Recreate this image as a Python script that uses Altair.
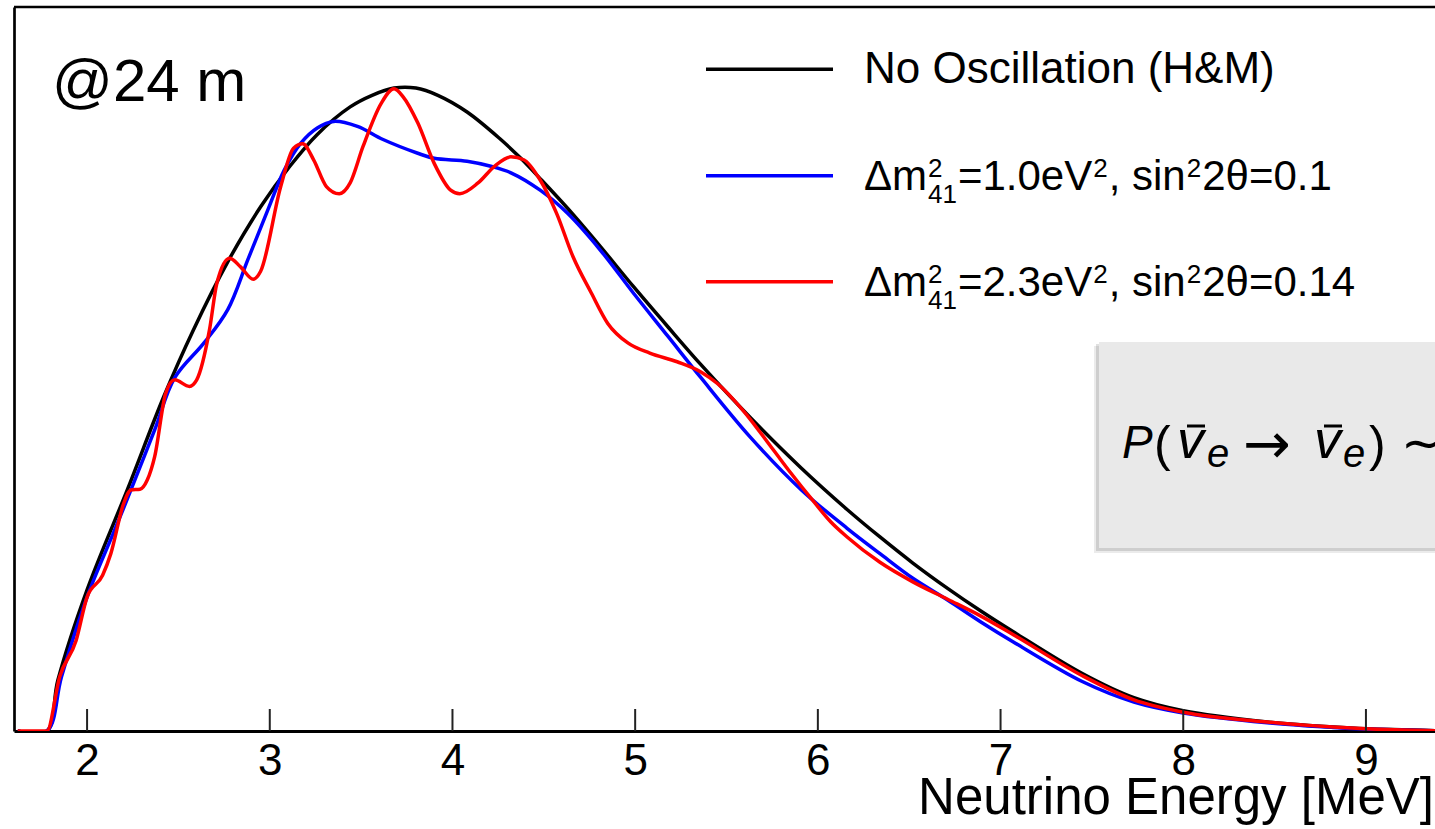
import altair as alt
import pandas as pd

# ---------------- data ----------------
TICKS = [2, 3, 4, 5, 6, 7, 8, 9]

black_E = [1.62, 1.78, 1.84, 2.00, 2.22, 2.42, 2.58, 2.77, 2.95, 3.11, 3.26, 3.44, 3.56, 3.68,
           3.80, 3.92, 4.08, 4.26, 4.37, 4.48, 4.63, 4.81, 4.99, 5.18, 5.36, 5.63, 5.91, 6.16,
           6.34, 6.52, 6.71, 6.89, 7.07, 7.45, 7.73, 8.00, 8.46, 8.82, 9.00, 9.38]
black_v = [0, 0, 7.0, 19.5, 33.3, 46.2, 55.3, 64.8, 72.4, 78.0, 82.4, 86.2, 87.8, 88.8,
           88.8, 87.8, 85.5, 81.8, 79.2, 76.3, 72.2, 66.9, 61.4, 55.8, 50.6, 43.3, 36.3, 30.6,
           26.8, 23.2, 19.7, 16.6, 13.7, 7.9, 4.6, 2.8, 1.25, 0.55, 0.3, 0.05]

blue_E = [1.62, 1.78, 1.86, 2.00, 2.15, 2.24, 2.37, 2.48, 2.64, 2.77, 2.88, 2.99, 3.08, 3.17,
          3.26, 3.35, 3.48, 3.62, 3.81, 3.90, 4.08, 4.21, 4.32, 4.48, 4.63, 4.81, 4.99, 5.18,
          5.36, 5.63, 5.91, 6.16, 6.34, 6.52, 6.71, 6.89, 7.07, 7.45, 7.73, 8.00, 8.46, 8.82,
          9.00, 9.38]
blue_v = [0, 0, 7.5, 18.5, 27.7, 33.3, 41.6, 48.8, 53.6, 58.2, 65.1, 72.0, 77.5, 81.2,
          83.3, 84.2, 83.5, 81.7, 79.8, 79.1, 78.7, 78.0, 77.1, 74.7, 71.5, 66.4, 60.5, 54.5,
          48.8, 40.6, 33.3, 28.0, 24.5, 21.1, 18.1, 15.1, 12.3, 6.8, 4.0, 2.5, 1.15, 0.5,
          0.28, 0.05]

red_E = [1.62, 1.78, 1.85, 1.94, 2.00, 2.085, 2.13, 2.20, 2.24, 2.29, 2.33, 2.37, 2.43, 2.48,
         2.56, 2.60, 2.67, 2.71, 2.78, 2.84, 2.91, 2.95, 3.06, 3.13, 3.18, 3.24, 3.31, 3.38,
         3.44, 3.51, 3.61, 3.68, 3.73, 3.81, 3.90, 3.99, 4.04, 4.14, 4.23, 4.32, 4.39, 4.48,
         4.57, 4.66, 4.76, 4.85, 4.96, 5.08, 5.23, 5.36, 5.45, 5.59, 5.76, 5.85, 5.98, 6.07,
         6.16, 6.34, 6.52, 6.71, 6.89, 7.07, 7.45, 7.73, 8.00, 8.46, 8.82, 9.00, 9.38]
red_v = [0, 0, 7.5, 12.5, 18.5, 21.5, 24.5, 31.4, 33.3, 33.4, 34.7, 37.9, 46.6, 48.5,
         47.6, 48.5, 55.4, 61.8, 65.3, 64.1, 62.4, 63.5, 75.2, 80.5, 81.1, 78.9, 75.2, 74.2,
         75.7, 80.7, 86.7, 88.7, 87.6, 84.0, 78.4, 74.7, 74.2, 75.7, 78.0, 79.3, 78.9, 76.1,
         71.5, 65.5, 60.5, 56.3, 53.6, 52.2, 51.0, 49.6, 48.0, 44.3, 38.7, 35.7, 31.6, 28.9,
         26.8, 23.3, 20.6, 18.2, 15.9, 13.3, 7.6, 4.3, 2.6, 1.24, 0.55, 0.3, 0.05]

# ---------------- layout ----------------
OX, OY = 14, 7          # plot origin on the page
W, H = 1421, 724        # plot area
XMIN, XMAX = 1.6, 9.378
FONT = "Liberation Sans"

xscale = alt.Scale(domain=[XMIN, XMAX], nice=False, zero=False)
yscale = alt.Scale(domain=[0, 100], nice=False, zero=False)
xaxis = alt.Axis(values=TICKS, ticks=False, labelFontSize=44, labelFont=FONT,
                 labelColor="black", labelPadding=8, domainColor="black", domainWidth=3,
                 grid=False, title=None, labelFlush=False, labelOverlap=False, format="d")
yaxis = alt.Axis(labels=False, ticks=False, domainColor="black", domainWidth=2.7,
                 grid=False, title=None)

one = pd.DataFrame({"t": [""]})


def curve(E, v, color, interp):
    df = pd.DataFrame({"E": E, "v": v})
    return alt.Chart(df).mark_line(color=color, strokeWidth=3.5, interpolate=interp,
                                   clip=True).encode(
        x=alt.X("E:Q", scale=xscale, axis=xaxis),
        y=alt.Y("v:Q", scale=yscale, axis=yaxis),
    )


def label(s, x, y, size, italic=False, align="left", baseline="alphabetic", font=FONT):
    return alt.Chart(pd.DataFrame({"t": [s]})).mark_text(
        align=align, baseline=baseline, fontSize=size, font=font,
        fontStyle="italic" if italic else "normal", color="black",
    ).encode(x=alt.value(x - OX), y=alt.value(y - OY), text="t:N")


def hrule(x1, x2, y, color, width):
    return alt.Chart(one).mark_rule(color=color, strokeWidth=width).encode(
        x=alt.value(x1 - OX), x2=alt.value(x2 - OX), y=alt.value(y - OY))


def box(x1, x2, y1, y2, color, opacity=1.0):
    return alt.Chart(one).mark_rect(color=color, opacity=opacity).encode(
        x=alt.value(x1 - OX), x2=alt.value(x2 - OX), y=alt.value(y1 - OY), y2=alt.value(y2 - OY))


layers = []

# formula box with soft shadow
layers += [
    box(1094, 1435, 346, 553, "#000000", 0.08),
    box(1096, 1435, 344, 551, "#000000", 0.12),
    box(1099, 1435, 342, 548, "#e9e9e9"),
]

# curves
layers += [curve(black_E, black_v, "#000000", "catmull-rom"),
           curve(blue_E, blue_v, "#0000ff", "catmull-rom"),
           curve(red_E, red_v, "#ff0000", "monotone")]

# top frame line
layers.append(alt.Chart(one).mark_rule(color="black", strokeWidth=2.7).encode(
    x=alt.value(0), x2=alt.value(W), y=alt.value(0)))

# inward ticks
layers.append(alt.Chart(pd.DataFrame({"E": TICKS})).mark_rule(color="#222222", strokeWidth=2).encode(
    x=alt.X("E:Q", scale=xscale, axis=xaxis), y=alt.value(H), y2=alt.value(H - 22)))

# legend
layers += [hrule(706, 833, 69.3, "#000000", 3.5),
           hrule(706, 833, 175.7, "#0000ff", 3.5),
           hrule(706, 833, 281.7, "#ff0000", 3.5)]
layers.append(label("No Oscillation (H&M)", 864, 82.5, 44))

# Arial/Liberation advance widths (em) used to chain the pieces of the legend labels
ADV = {"Δ": 0.668, "m": 0.833, "=": 0.584, ".": 0.278, "e": 0.556, "V": 0.667, ",": 0.278,
       " ": 0.278, "s": 0.5, "i": 0.222, "n": 0.556, "θ": 0.556}


def width(s, size):
    return sum(ADV.get(c, 0.556) for c in s) * size


FS, fs = 42, 26
for dy, mass, mix in [(0, "=1.0eV", "2θ=0.1"), (106, "=2.3eV", "2θ=0.14")]:
    base = 189.7 + dy
    sup = 176.7 + dy
    sub = 203.3 + dy
    x = 864
    pieces = [label("Δm", x, base, FS)]
    x += width("Δm", FS) + 1
    pieces += [label("2", x, sup, fs), label("41", x, sub, fs)]
    x += width("41", fs) + 1
    pieces.append(label(mass, x, base, FS))
    x += width(mass, FS) + 1
    pieces.append(label("2", x, sup, fs))
    x += width("2", fs) + 1
    pieces.append(label(", sin", x, base, FS))
    x += width(", sin", FS) + 1
    pieces.append(label("2", x, sup, fs))
    x += width("2", fs) + 1
    pieces.append(label(mix, x, base, FS))
    layers += pieces

# formula
layers += [
    label("P", 1122, 458, 46, italic=True),
    label("(", 1154, 461, 50),
    label("v", 1177, 458, 54, italic=True),
    hrule(1187, 1205, 426, "#000000", 3),
    label("e", 1207, 467, 40, italic=True),
    label("→", 1243, 463, 57, font="DejaVu Sans"),
    label("v", 1314, 458, 54, italic=True),
    hrule(1324, 1342, 426, "#000000", 3),
    label("e", 1343, 467, 40, italic=True),
    label(")", 1369, 461, 50),
    label("∼", 1401, 460, 50, font="DejaVu Sans"),
]

# annotations
layers.append(label("@24 m", 52, 101, 60))
layers.append(label("Neutrino Energy [MeV]", 1434, 814, 51, align="right"))

chart = alt.layer(*layers).properties(
    width=W, height=H,
    padding={"left": OX, "top": OY, "right": 0, "bottom": 829 - OY - H},
    autosize=alt.AutoSizeParams(type="none"),
    background="white",
).configure_view(stroke=None)

chart.save("out.html", embed_options={"renderer": "svg", "actions": False})
